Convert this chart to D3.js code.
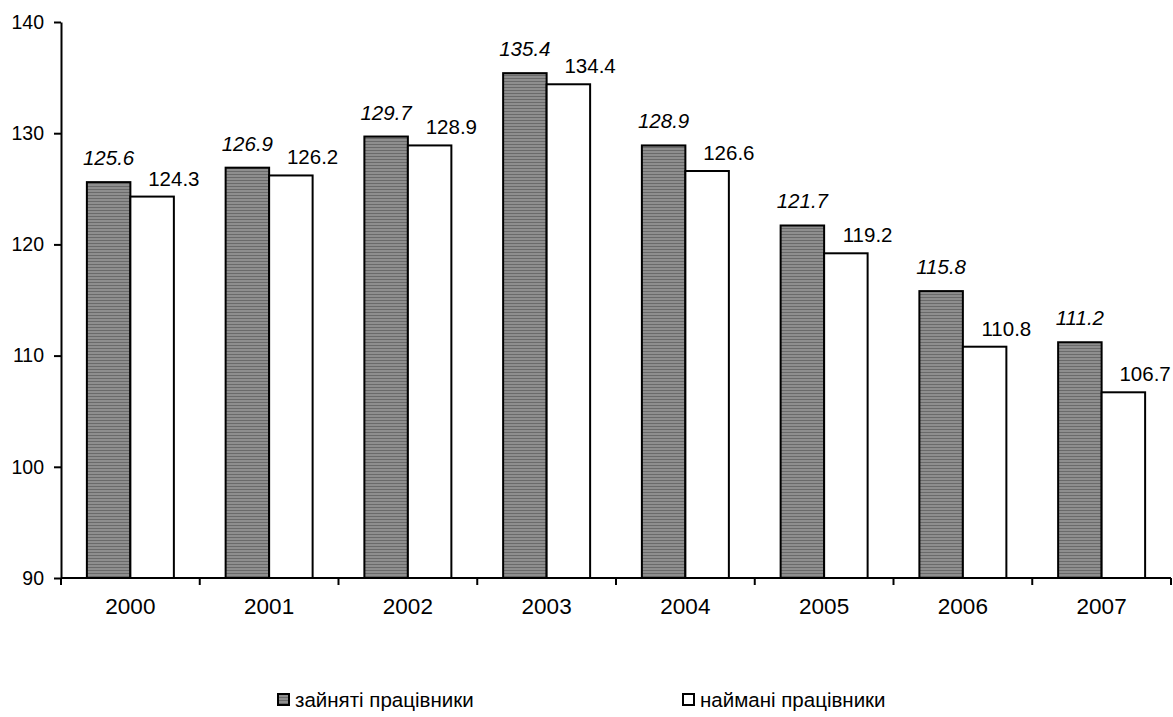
<!DOCTYPE html>
<html>
<head>
<meta charset="utf-8">
<script src="https://cdn.jsdelivr.net/npm/d3@7"></script>
<style>
  body { margin: 0; background: #fff; }
  text { font-family: "Liberation Sans", Arial, sans-serif; }
</style>
</head>
<body>
<div id="chart"></div>
<script>
/* DATA */
const years = ["2000", "2001", "2002", "2003", "2004", "2005", "2006", "2007"];
const employed = [125.6, 126.9, 129.7, 135.4, 128.9, 121.7, 115.8, 111.2];
const hired = [124.3, 126.2, 128.9, 134.4, 126.6, 119.2, 110.8, 106.7];
const seriesNames = ["зайняті працівники", "наймані працівники"];
const yTicks = [90, 100, 110, 120, 130, 140];

/* CONSTANTS */
const width = 1173, height = 717;
const margin = { top: 22, left: 61, right: 2, bottom: 139 };
const tickFont = "19.5px", valueFont = "20.5px", yearFont = "22.5px", legendFont = "20.5px";

const svg = d3.select("#chart").append("svg")
  .attr("width", width)
  .attr("height", height);

// striped gray fill like the original
const defs = svg.append("defs");
const pat = defs.append("pattern")
  .attr("id", "stripes")
  .attr("patternUnits", "userSpaceOnUse")
  .attr("width", 6).attr("height", 3);
pat.append("rect").attr("width", 6).attr("height", 3).attr("fill", "#8e8e8e");
pat.append("rect").attr("width", 6).attr("height", 1).attr("fill", "#6a6a6a");

/* SCALES */
const x0 = d3.scaleBand()
  .domain(years)
  .range([margin.left, width - margin.right])
  .paddingInner(0).paddingOuter(0);

const x1 = d3.scaleBand()
  .domain([0, 1])
  .range([0, x0.bandwidth()])
  .paddingInner(0)
  .paddingOuter(0.595);

const y = d3.scaleLinear()
  .domain([90, 140])
  .range([height - margin.bottom, margin.top]);

const rows = years.map((yr, i) => ({ year: yr, values: [employed[i], hired[i]] }));

/* BARS */
const groups = svg.append("g").selectAll("g")
  .data(rows)
  .join("g")
  .attr("transform", d => `translate(${x0(d.year)},0)`);

groups.selectAll("rect")
  .data(d => d.values.map((v, s) => ({ s, v })))
  .join("rect")
  .attr("x", d => x1(d.s))
  .attr("y", d => y(d.v))
  .attr("width", x1.bandwidth())
  .attr("height", d => y(90) - y(d.v))
  .attr("fill", d => d.s === 0 ? "url(#stripes)" : "#fff")
  .attr("stroke", "#000")
  .attr("stroke-width", 2);

// value labels: italic over the gray bar, plain at the right edge of the white bar
groups.selectAll("text.val")
  .data(d => d.values.map((v, s) => ({ s, v })))
  .join("text")
  .attr("class", "val")
  .attr("x", d => d.s === 0 ? x1(d.s) + x1.bandwidth() / 2 : x1(d.s) + x1.bandwidth())
  .attr("y", d => y(d.v) - (d.s === 0 ? 17 : 11))
  .attr("text-anchor", "middle")
  .style("font-size", valueFont)
  .style("font-style", d => d.s === 0 ? "italic" : "normal")
  .text(d => d.v.toFixed(1));

/* AXES */
const yAxis = svg.append("g")
  .attr("transform", `translate(${margin.left},0)`)
  .call(d3.axisLeft(y).tickValues(yTicks).tickSize(7).tickPadding(10).tickSizeOuter(0));
yAxis.select(".domain").attr("stroke-width", 2);
yAxis.selectAll(".tick line").attr("stroke-width", 2);
yAxis.selectAll("text")
  .attr("fill", "#000")
  .style("font-size", tickFont)
  .style("font-family", "'Liberation Sans', Arial, sans-serif");

const base = y(90);
const xAxis = svg.append("g");
xAxis.append("line")
  .attr("x1", margin.left).attr("x2", width - margin.right)
  .attr("y1", base).attr("y2", base)
  .attr("stroke", "#000").attr("stroke-width", 2);

const boundaries = years.map(d => x0(d)).concat([x0.range()[1]]);
xAxis.selectAll("line.tick")
  .data(boundaries)
  .join("line")
  .attr("class", "tick")
  .attr("x1", d => d).attr("x2", d => d)
  .attr("y1", base).attr("y2", base + 7)
  .attr("stroke", "#000").attr("stroke-width", 2);

xAxis.selectAll("text")
  .data(years)
  .join("text")
  .attr("x", d => x0(d) + x0.bandwidth() / 2)
  .attr("y", base + 36)
  .attr("text-anchor", "middle")
  .style("font-size", yearFont)
  .text(d => d);

/* LEGEND */
const legendX = [278, 683];
const legend = svg.append("g").selectAll("g")
  .data(seriesNames)
  .join("g")
  .attr("transform", (d, i) => `translate(${legendX[i]},700)`);

legend.append("rect")
  .attr("x", 0).attr("y", -6)
  .attr("width", 11).attr("height", 11)
  .attr("fill", (d, i) => i === 0 ? "url(#stripes)" : "#fff")
  .attr("stroke", "#000").attr("stroke-width", 2);

legend.append("text")
  .attr("x", 17).attr("y", 7)
  .style("font-size", legendFont)
  .text(d => d);
</script>
</body>
</html>
